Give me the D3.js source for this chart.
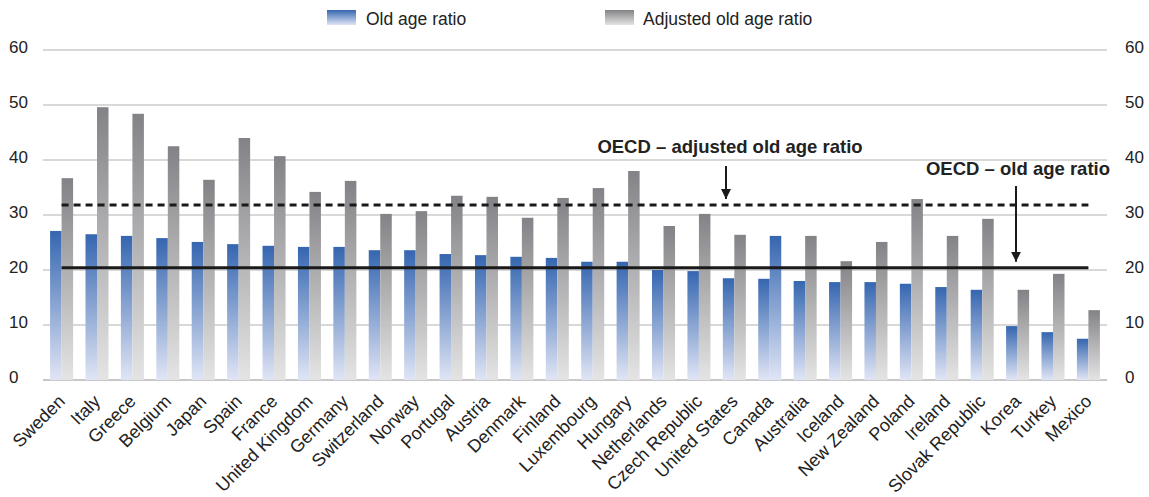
<!DOCTYPE html>
<html>
<head>
<meta charset="utf-8">
<script src="https://cdn.jsdelivr.net/npm/d3@7/dist/d3.min.js"></script>
<style>
  html, body { margin: 0; padding: 0; background: #fff; }
  svg { display: block; font-family: "Liberation Sans", Arial, Helvetica, sans-serif; }
</style>
</head>
<body>
<svg id="chart" width="1149" height="497"></svg>
<script>
// ---- DATA ----
const countries = ["Sweden","Italy","Greece","Belgium","Japan","Spain","France","United Kingdom","Germany","Switzerland","Norway","Portugal","Austria","Denmark","Finland","Luxembourg","Hungary","Netherlands","Czech Republic","United States","Canada","Australia","Iceland","New Zealand","Poland","Ireland","Slovak Republic","Korea","Turkey","Mexico"];
const oldAgeRatio = [27.1,26.5,26.2,25.8,25.1,24.7,24.4,24.2,24.2,23.6,23.6,22.9,22.7,22.4,22.2,21.5,21.5,20.0,19.8,18.5,18.4,18.0,17.8,17.8,17.5,16.9,16.4,9.8,8.7,7.5];
const adjustedOldAgeRatio = [36.7,49.6,48.4,42.5,36.4,44.0,40.7,34.2,36.2,30.2,30.7,33.5,33.3,29.5,33.1,34.9,38.0,28.0,30.2,26.4,26.2,26.2,21.6,25.1,32.9,26.2,29.3,16.4,19.3,12.7];
const oecdOldAge = 20.4;
const oecdAdjusted = 31.8;
const yTicks = [0,10,20,30,40,50,60];
const seriesNames = ["Old age ratio","Adjusted old age ratio"];
const annotations = ["OECD – adjusted old age ratio","OECD – old age ratio"];

// ---- CHART ----
(function () {
const svg = d3.select("#chart");
const mLeft = 43, mRight = 1107, mTop = 50, mBottom = 380;

const x = d3.scaleBand().domain(countries).range([mLeft, mRight]).paddingInner(0.35).paddingOuter(0.2);
const xs = d3.scaleBand().domain([0,1]).range([0, x.bandwidth()]);
const y = d3.scaleLinear().domain([0,60]).range([mBottom, mTop]);

const defs = svg.append("defs");
function grad(id, c1, c2) {
  const g = defs.append("linearGradient").attr("id", id).attr("x1",0).attr("y1",0).attr("x2",0).attr("y2",1);
  g.append("stop").attr("offset","0%").attr("stop-color",c1);
  g.append("stop").attr("offset","100%").attr("stop-color",c2);
}
grad("gBlue", "#3566b0", "#e0e5f5");
grad("gGray", "#838387", "#e4e4e4");

// gridlines
svg.append("g").selectAll("line").data(yTicks).join("line")
  .attr("x1", mLeft).attr("x2", mRight)
  .attr("y1", d => y(d)).attr("y2", d => y(d))
  .attr("stroke", d => d === 0 ? "#c8c8c8" : "#d8d8d8").attr("stroke-width", 2);

// bars
const groups = svg.append("g").selectAll("g").data(countries).join("g")
  .attr("transform", d => `translate(${x(d)},0)`);
groups.append("rect")
  .attr("x", xs(0)).attr("width", xs.bandwidth())
  .attr("y", (d,i) => y(oldAgeRatio[i])).attr("height", (d,i) => y(0) - y(oldAgeRatio[i]))
  .attr("fill", "url(#gBlue)");
groups.append("rect")
  .attr("x", xs(1)).attr("width", xs.bandwidth())
  .attr("y", (d,i) => y(adjustedOldAgeRatio[i])).attr("height", (d,i) => y(0) - y(adjustedOldAgeRatio[i]))
  .attr("fill", d => d === "Canada" ? "url(#gBlue)" : "url(#gGray)");

// OECD lines
const lx1 = x(countries[0]) + x.bandwidth()/2;
const lx2 = x(countries[countries.length-1]) + x.bandwidth()/2;
svg.append("line").attr("x1", lx1).attr("x2", lx2).attr("y1", y(oecdAdjusted)).attr("y2", y(oecdAdjusted))
  .attr("stroke", "#1a1a1a").attr("stroke-width", 3).attr("stroke-dasharray", "7,5");
svg.append("line").attr("x1", lx1).attr("x2", lx2).attr("y1", y(oecdOldAge)).attr("y2", y(oecdOldAge))
  .attr("stroke", "#1a1a1a").attr("stroke-width", 3);

// axes (left & right tick labels)
const axL = svg.append("g").attr("transform", "translate(9,0)")
  .call(d3.axisRight(y).tickValues(yTicks).tickSize(0).tickPadding(0));
const axR = svg.append("g").attr("transform", "translate(1125,0)")
  .call(d3.axisRight(y).tickValues(yTicks).tickSize(0).tickPadding(0));
[axL, axR].forEach(a => {
  a.select(".domain").remove();
  a.selectAll("text").attr("font-size", 17).attr("fill", "#222").attr("dy", "0.12em")
    .style("font-family", "'Liberation Sans', Arial, sans-serif");
});

// category axis
const axB = svg.append("g").attr("transform", `translate(0,${mBottom})`)
  .call(d3.axisBottom(x).tickSize(0).tickPadding(0));
axB.select(".domain").remove();
axB.selectAll("text")
  .attr("font-size", 18).attr("fill", "#222")
  .style("font-family", "'Liberation Sans', Arial, sans-serif")
  .attr("text-anchor", "end")
  .attr("x", 0).attr("y", 0).attr("dy", "0.35em")
  .attr("transform", "translate(0,18) rotate(-45)");

// legend
const legend = svg.append("g");
legend.append("rect").attr("x", 327).attr("y", 10).attr("width", 29).attr("height", 15).attr("fill", "url(#gBlue)");
legend.append("text").attr("x", 366).attr("y", 25).text(seriesNames[0]).attr("font-size", 17.5).attr("fill", "#222");
legend.append("rect").attr("x", 605).attr("y", 10).attr("width", 29).attr("height", 15).attr("fill", "url(#gGray)");
legend.append("text").attr("x", 643).attr("y", 25).text(seriesNames[1]).attr("font-size", 17.5).attr("fill", "#222");

// annotations
const ann = svg.append("g").attr("font-weight", "bold").attr("font-size", 18.5).attr("fill", "#222");
ann.append("text").attr("x", 730).attr("y", 153).attr("text-anchor", "middle").text(annotations[0]);
ann.append("text").attr("x", 1110).attr("y", 175).attr("text-anchor", "end").text(annotations[1]);

defs.append("marker").attr("id", "arr").attr("viewBox", "0 0 10 10").attr("refX", 10).attr("refY", 5)
  .attr("markerWidth", 10).attr("markerHeight", 10).attr("markerUnits", "userSpaceOnUse").attr("orient", "auto")
  .append("path").attr("d", "M0,0 L10,5 L0,10 Z").attr("fill", "#1a1a1a");
svg.append("line").attr("x1", 726).attr("x2", 726).attr("y1", 166).attr("y2", y(oecdAdjusted) - 6)
  .attr("stroke", "#1a1a1a").attr("stroke-width", 2).attr("marker-end", "url(#arr)");
svg.append("line").attr("x1", 1016).attr("x2", 1016).attr("y1", 186).attr("y2", y(oecdOldAge) - 6)
  .attr("stroke", "#1a1a1a").attr("stroke-width", 2).attr("marker-end", "url(#arr)");
})();
</script>
</body>
</html>
